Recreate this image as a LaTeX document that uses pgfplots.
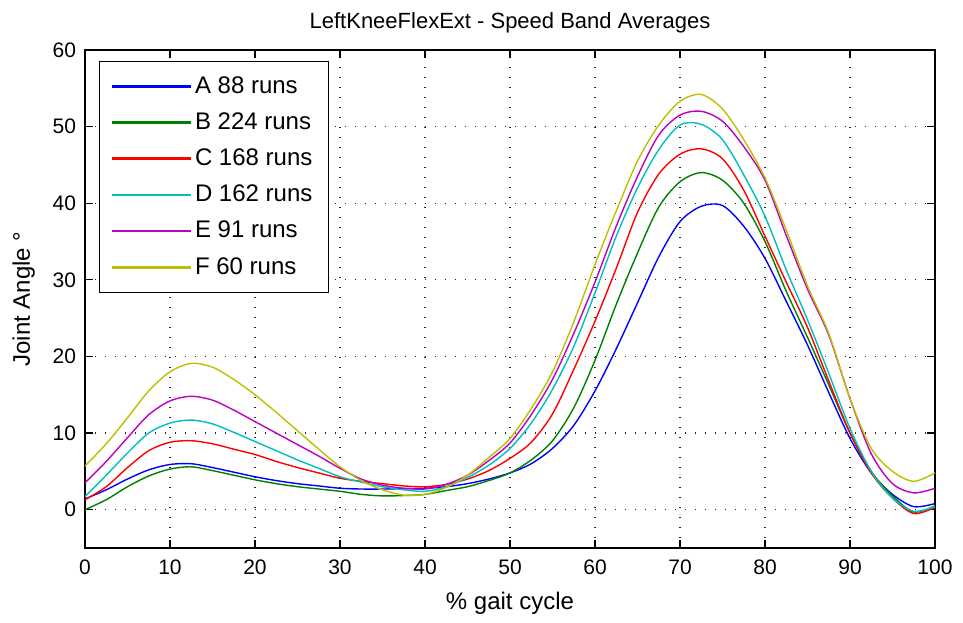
\documentclass[border=0pt]{standalone}
\usepackage{fontspec}
\setmainfont{Liberation Sans}
\usepackage{pgfplots}
\pgfplotsset{compat=1.18}

\definecolor{mA}{rgb}{0,0,1}
\definecolor{mB}{rgb}{0,0.5,0}
\definecolor{mC}{rgb}{1,0,0}
\definecolor{mD}{rgb}{0,0.75,0.75}
\definecolor{mE}{rgb}{0.75,0,0.75}
\definecolor{mF}{rgb}{0.75,0.75,0}

\begin{document}
\begin{tikzpicture}
  % fix the page to the reference's frame (1 px = 0.5 pt)
  \path[use as bounding box] (-42.5pt,-37pt) rectangle (439pt,274pt);
  \begin{axis}[
      at={(0,0)}, anchor=south west,
      scale only axis, width=425pt, height=249pt,
      xmin=0, xmax=100, ymin=-5, ymax=60,
      xtick={0,10,...,100}, ytick={0,10,...,60},
      tick align=inside, tick pos=both,
      major tick length=4pt,
      grid=major,
      major grid style={black!85, line width=0.6pt, dash pattern=on 0.7pt off 4.3pt},
      axis line style={black, line width=0.6pt},
      tick style={black, line width=0.6pt},
      /pgf/number format/assume math mode=true,
      tick label style={font=\fontsize{10.5}{12}\selectfont},
      xticklabel style={yshift=-2.5pt},
      yticklabel style={xshift=-1pt},
      title={LeftKneeFlexExt - Speed Band Averages},
      title style={font=\fontsize{11}{13}\selectfont, yshift=-1pt},
      xlabel={\% gait cycle},
      ylabel={Joint Angle °},
      label style={font=\fontsize{12}{14}\selectfont},
      xlabel style={yshift=-1.5pt},
      ylabel style={yshift=2pt},
      legend style={at={(0.0165,0.978)}, anchor=north west,
        draw=black, fill=white, line width=0.6pt,
        font=\fontsize{12}{14}\selectfont,
        row sep=4.2pt, inner xsep=6pt, inner ysep=5.5pt},
      legend cell align=left,
      % short filled strip as the sample line, so it keeps its colour and width
      legend image code/.code={\fill[#1] (0pt,-0.33pt) rectangle (39pt,0.33pt);},
      every axis plot/.append style={line width=0.7pt, smooth, tension=0.5},
    ]
    \addplot[mA] coordinates {(0,1.4)(2.5,2.6)(5,4.0)(7.5,5.2)(10,5.9)(12.5,6.0)(15,5.5)(17.5,4.9)(20,4.3)(22.5,3.8)(25,3.4)(27.5,3.1)(30,2.8)(32.5,2.7)(35,2.7)(37.5,2.75)(40,2.8)(42.5,3.0)(45,3.4)(47.5,4.0)(50,4.8)(52.5,6.0)(55,8.0)(57.5,11.0)(60,15.5)(62.5,21.0)(65,27.0)(67.5,33.0)(70,37.6)(72.5,39.6)(75,39.7)(77.5,37.0)(80,32.8)(82.5,27.2)(85,21.5)(87.5,15.3)(90,9.3)(92.5,4.8)(95,2.0)(97.5,0.4)(100,0.8)};
    \addlegendentry{A 88 runs}
    \addplot[mB] coordinates {(0,0.0)(2.5,1.3)(5,3.0)(7.5,4.4)(10,5.3)(12.5,5.6)(15,5.1)(17.5,4.5)(20,3.9)(22.5,3.4)(25,3.0)(27.5,2.7)(30,2.4)(32.5,2.0)(35,1.8)(37.5,1.85)(40,2.0)(42.5,2.5)(45,3.0)(47.5,3.8)(50,4.8)(52.5,6.5)(55,9.0)(57.5,13.3)(60,19.5)(62.5,26.8)(65,33.5)(67.5,39.5)(70,42.8)(72.5,44.0)(75,43.0)(77.5,40.0)(80,35.0)(82.5,28.5)(85,22.5)(87.5,16.3)(90,10.0)(92.5,5.0)(95,1.8)(97.5,-0.3)(100,0.5)};
    \addlegendentry{B 224 runs}
    \addplot[mC] coordinates {(0,1.3)(2.5,3.0)(5,5.5)(7.5,7.7)(10,8.8)(12.5,9.0)(15,8.6)(17.5,7.9)(20,7.2)(22.5,6.3)(25,5.5)(27.5,4.8)(30,4.1)(32.5,3.7)(35,3.4)(37.5,3.1)(40,3.0)(42.5,3.3)(45,4.0)(47.5,5.1)(50,6.7)(52.5,8.8)(55,12.5)(57.5,18.3)(60,24.6)(62.5,31.5)(65,38.8)(67.5,43.8)(70,46.4)(72.5,47.1)(75,45.8)(77.5,41.7)(80,35.7)(82.5,29.7)(85,23.8)(87.5,16.8)(90,10.0)(92.5,4.8)(95,1.5)(97.5,-0.5)(100,0.3)};
    \addlegendentry{C 168 runs}
    \addplot[mD] coordinates {(0,1.7)(2.5,4.5)(5,7.4)(7.5,10.0)(10,11.3)(12.5,11.7)(15,11.2)(17.5,10.1)(20,8.9)(22.5,7.7)(25,6.5)(27.5,5.4)(30,4.3)(32.5,3.6)(35,3.0)(37.5,2.6)(40,2.4)(42.5,3.0)(45,4.2)(47.5,5.8)(50,8.0)(52.5,11.3)(55,15.7)(57.5,21.3)(60,28.3)(62.5,35.7)(65,42.0)(67.5,47.0)(70,50.2)(72.5,50.3)(75,48.3)(77.5,43.7)(80,38.3)(82.5,31.3)(85,24.8)(87.5,17.8)(90,10.6)(92.5,5.0)(95,1.5)(97.5,-0.2)(100,0.4)};
    \addlegendentry{D 162 runs}
    \addplot[mE] coordinates {(0,3.5)(2.5,6.3)(5,9.4)(7.5,12.4)(10,14.2)(12.5,14.8)(15,14.3)(17.5,13.0)(20,11.5)(22.5,10.0)(25,8.5)(27.5,7.0)(30,5.4)(32.5,4.0)(35,3.2)(37.5,2.8)(40,2.7)(42.5,3.3)(45,4.5)(47.5,6.4)(50,8.7)(52.5,12.4)(55,17.0)(57.5,23.0)(60,29.7)(62.5,37.0)(65,43.5)(67.5,48.9)(70,51.5)(72.5,52.0)(75,50.7)(77.5,47.4)(80,43.0)(82.5,35.8)(85,28.8)(87.5,22.8)(90,14.5)(92.5,7.3)(95,3.4)(97.5,2.2)(100,2.8)};
    \addlegendentry{E 91 runs}
    \addplot[mF] coordinates {(0,5.7)(2.5,8.6)(5,12.0)(7.5,15.5)(10,18.0)(12.5,19.1)(15,18.6)(17.5,17.0)(20,15.0)(22.5,12.7)(25,10.3)(27.5,7.9)(30,5.6)(32.5,3.8)(35,2.6)(37.5,1.9)(40,2.0)(42.5,2.9)(45,4.5)(47.5,6.8)(50,9.3)(52.5,13.2)(55,18.0)(57.5,24.5)(60,32.0)(62.5,39.0)(65,45.5)(67.5,50.2)(70,53.3)(72.5,54.2)(75,52.3)(77.5,48.3)(80,43.3)(82.5,36.5)(85,29.2)(87.5,23.0)(90,14.5)(92.5,8.0)(95,5.0)(97.5,3.7)(100,4.8)};
    \addlegendentry{F 60 runs}
  \end{axis}
\end{tikzpicture}
\end{document}
